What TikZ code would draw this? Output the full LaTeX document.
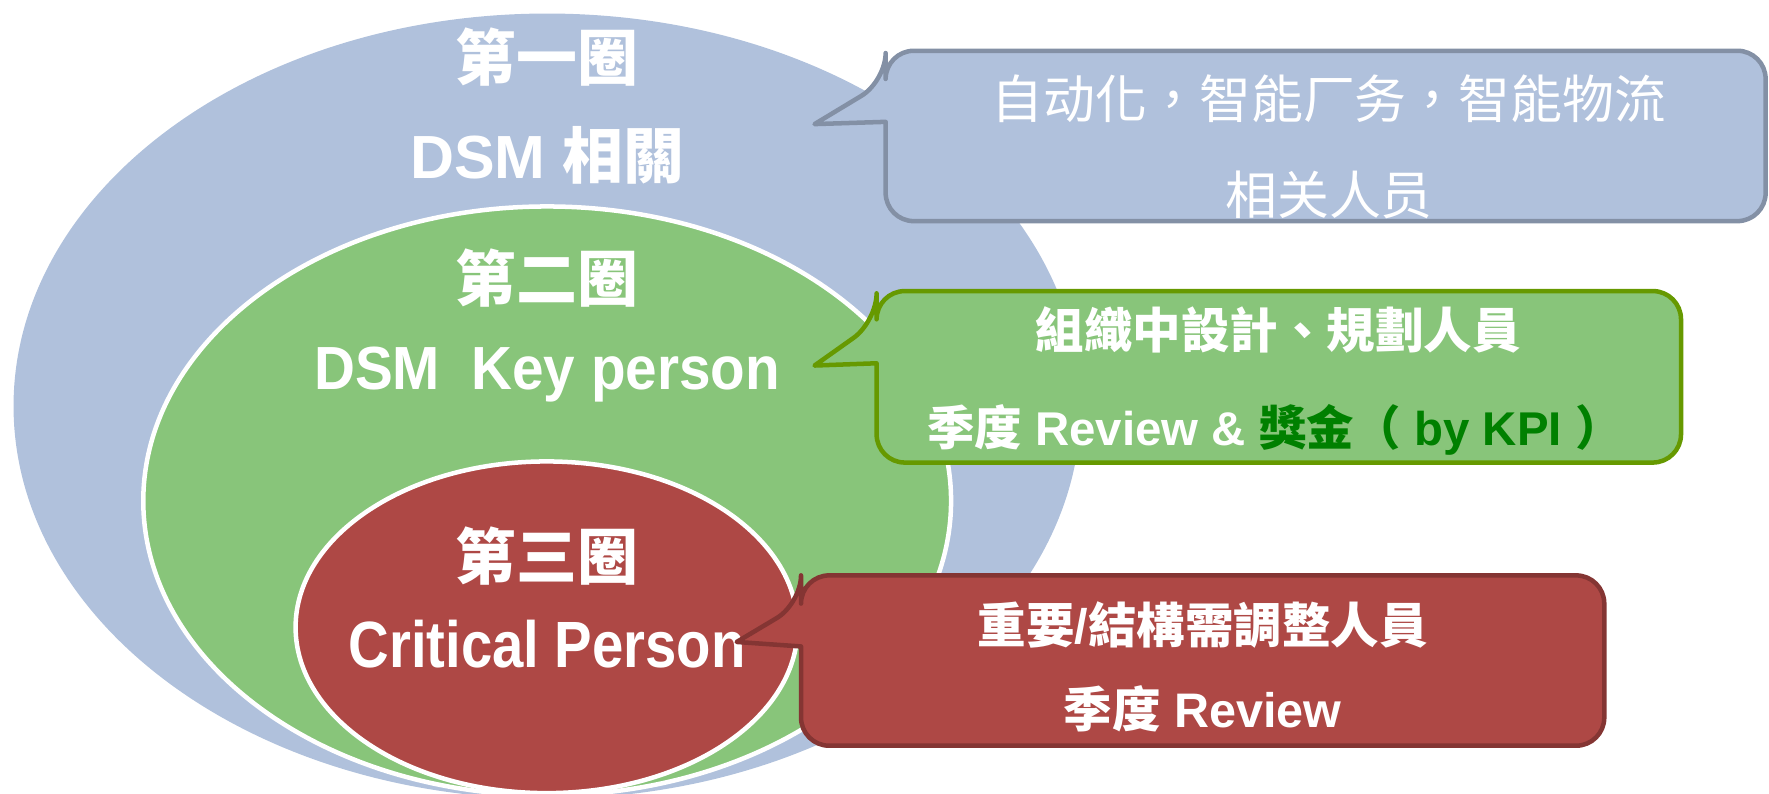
\documentclass[tikz,border=0pt]{standalone}
\usepackage{fontspec}
\setmainfont{Liberation Sans}
\newfontfamily\cjktc{Noto Sans CJK TC}
\newcommand\tcb[1]{{\cjktc\bfseries #1}}
\definecolor{bluefill}{RGB}{176,193,220}
\definecolor{blueline}{RGB}{131,144,165}
\definecolor{greenfill}{RGB}{136,197,122}
\definecolor{greenline}{RGB}{102,153,0}
\definecolor{redfill}{RGB}{174,72,69}
\definecolor{redline}{RGB}{132,53,51}
\definecolor{kpigreen}{RGB}{0,128,0}
\tikzset{
  ringlabel/.style={text=white, inner sep=0pt, anchor=base, font=\fontsize{54}{60}\selectfont\bfseries},
  calltext/.style={text=white, inner sep=0pt, anchor=base, font=\fontsize{43}{50}\selectfont\bfseries},
  callout/.style={line width=4pt, line join=round},
  ring/.style={draw=white, line width=4pt},
}
\begin{document}
\begin{tikzpicture}[x=1pt,y=-1pt]
\useasboundingbox (0,0) rectangle (1568,703);
\clip (0,0) rectangle (1568,703);
% rings
\fill[bluefill] (485,360) ellipse [x radius=473, y radius=348];
\filldraw[ring, fill=greenfill] (485,444) ellipse [x radius=358, y radius=261];
\filldraw[ring, fill=redfill] (484.5,556) ellipse [x radius=222.5, y radius=147];
% ring labels
\node[ringlabel] (r1a) at (485,71) {\tcb{第一圈}};
\node[ringlabel] (r1b) at (485,158) {DSM \tcb{相關}};
\node[ringlabel] (r2a) at (485,267) {\tcb{第二圈}};
\node[ringlabel] (r2b) at (485,345) {\scalebox{0.93}[1]{DSM\ \ Key person}};
\node[ringlabel] (r3a) at (485,514) {\tcb{第三圈}};
\node[ringlabel, font=\fontsize{58}{64}\selectfont\bfseries] (r3b) at (485,592) {\scalebox{0.86}[1]{Critical Person}};
% callout 1
\draw[callout, draw=blueline, fill=bluefill]
  (785,72) -- (722,110) -- (785,108) [rounded corners=25pt] -- (785,196) -- (1565,196) -- (1565,45) -- (785,45) -- cycle;
\node[calltext, font=\fontsize{46}{52}\selectfont] (c1a) at (1178,105) {\cjktc 自动化，智能厂务，智能物流};
\node[calltext, font=\fontsize{46}{52}\selectfont] (c1b) at (1178,190) {\cjktc 相关人员};
% callout 2
\draw[callout, draw=greenline, fill=greenfill]
  (777,285) -- (722,324) -- (777,322) [rounded corners=25pt] -- (777,410) -- (1490,410) -- (1490,258) -- (777,258) -- cycle;
\node[calltext] (c2a) at (1133,309) {\tcb{組織中設計、規劃人員}};
\node[calltext, font=\fontsize{42}{50}\selectfont\bfseries] (c2b) at (1130,395) {\tcb{季度} Review \& \textcolor{kpigreen}{\tcb{獎金（} by KPI \tcb{）}}};
% callout 3
\draw[callout, draw=redline, fill=redfill]
  (710,535) -- (653,569) -- (710,573) [rounded corners=25pt] -- (710,661) -- (1422,661) -- (1422,510) -- (710,510) -- cycle;
\node[calltext] (c3a) at (1066,570) {\tcb{重要}/\tcb{結構需調整人員}};
\node[calltext] (c3b) at (1066,645) {\tcb{季度} Review};
\end{tikzpicture}
\end{document}
